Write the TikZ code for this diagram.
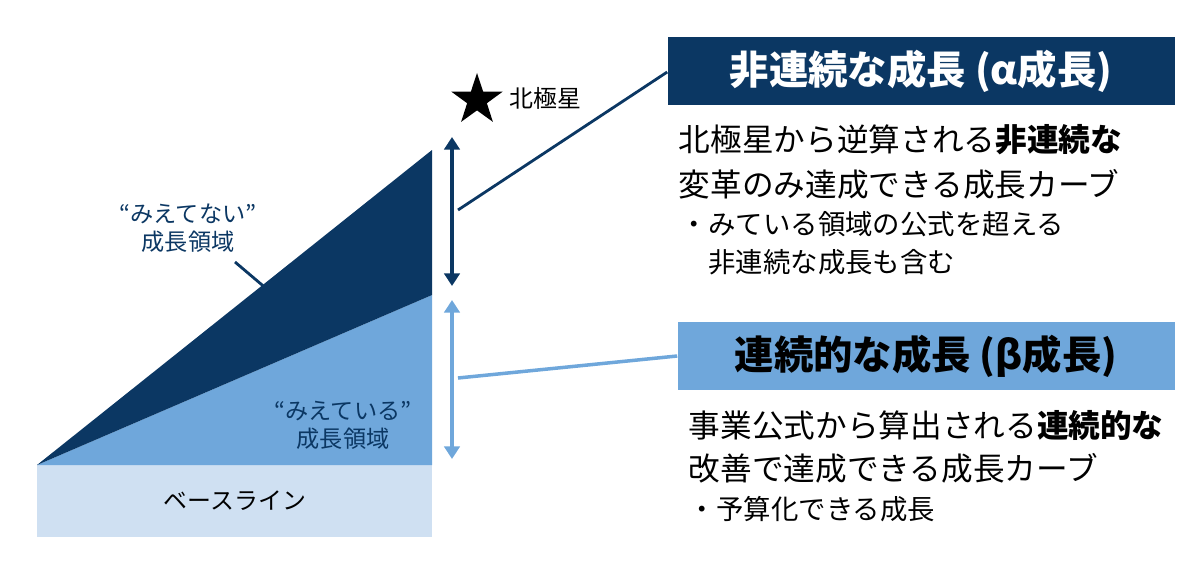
\documentclass[tikz,border=0pt]{standalone}
\usepackage{fontspec}
\setmainfont{Noto Sans CJK JP}
\usetikzlibrary{shapes.geometric,arrows.meta}
\definecolor{deepblue}{HTML}{0B3763}
\definecolor{midblue}{HTML}{6FA7DB}
\definecolor{paleblue}{HTML}{CFE0F2}
\tikzset{
  lbl/.style={font=\fontsize{16.5}{20}\selectfont,text=deepblue,align=center},
  body/.style={font=\fontsize{22.5}{26}\selectfont,anchor=west},
  sub/.style={font=\fontsize{19.5}{23}\selectfont,anchor=west},
  head/.style={font=\bfseries\fontsize{28}{32}\selectfont,minimum height=68\px,inner sep=0},
  span/.style={{Triangle[width=11pt,length=9pt]}-{Triangle[width=11pt,length=9pt]},line width=3pt}
}
\newlength{\px}\setlength{\px}{0.025cm}
\begin{document}
\begin{tikzpicture}[x=\px,y=-\px]
    \useasboundingbox (0,0) rectangle (1200,565);
    % baseline and growth areas
    \fill[paleblue] (37,465) rectangle (432,537);
    \node (base) at (235,501) {\fontsize{17}{20}\selectfont ベースライン};
    \fill[midblue] (37,465) -- (432,295) -- (432,465) -- cycle;
    \fill[deepblue] (37,465) -- (432,150) -- (432,295) -- cycle;

    \node[lbl] (unseen) at (188,228) {“みえてない”\\成長領域};
    \coordinate (unseentip) at (268,290);
    \draw[deepblue,line width=2pt] (235,262) -- (unseentip);
    \node[lbl] (seen) at (343,425) {“みえている”\\成長領域};

    % north star
    \node[star,star points=5,star point ratio=2.6,fill=black,minimum size=54\px,inner sep=0] (star) at (477,100) {};
    \node[anchor=west,font=\fontsize{17}{20}\selectfont] (starlbl) at (505,98) {北極星};

    % spans
    \coordinate (atop) at (452,137);
    \coordinate (abot) at (452,286);
    \coordinate (btop) at (452,300);
    \coordinate (bbot) at (452,459);
    \draw[span,deepblue] (atop) -- (abot);
    \draw[span,midblue] (btop) -- (bbot);

    % headings
    \node[head,fill=deepblue,text=white,minimum width=507\px] (alpha) at (921,71) {非連続な成長 (α成長)};
    \node[head,fill=midblue,text=black,minimum width=497\px] (beta) at (926,356) {連続的な成長 (β成長)};
    \coordinate (aend) at (458,210);
    \coordinate (bend) at (458,378);
    \draw[deepblue,line width=2pt] (aend) -- (alpha.west|-0,72);
    \draw[midblue,line width=2.5pt] (bend) -- (beta.west);

    % descriptions
    \node[body] (a1) at (674,140) {北極星から逆算される\textbf{非連続な}};
    \node[body] (a2) at (674,184) {変革のみ達成できる成長カーブ};
    \node[sub] (a3) at (676,224) {・みている領域の公式を超える};
    \node[sub] (a4) at (676,262) {\hspace{1em}非連続な成長も含む};
    \node[body] (b1) at (684,425) {事業公式から算出される\textbf{連続的な}};
    \node[body] (b2) at (684,468) {改善で達成できる成長カーブ};
    \node[sub] (b3) at (684,509) {・予算化できる成長};
\end{tikzpicture}
\end{document}
